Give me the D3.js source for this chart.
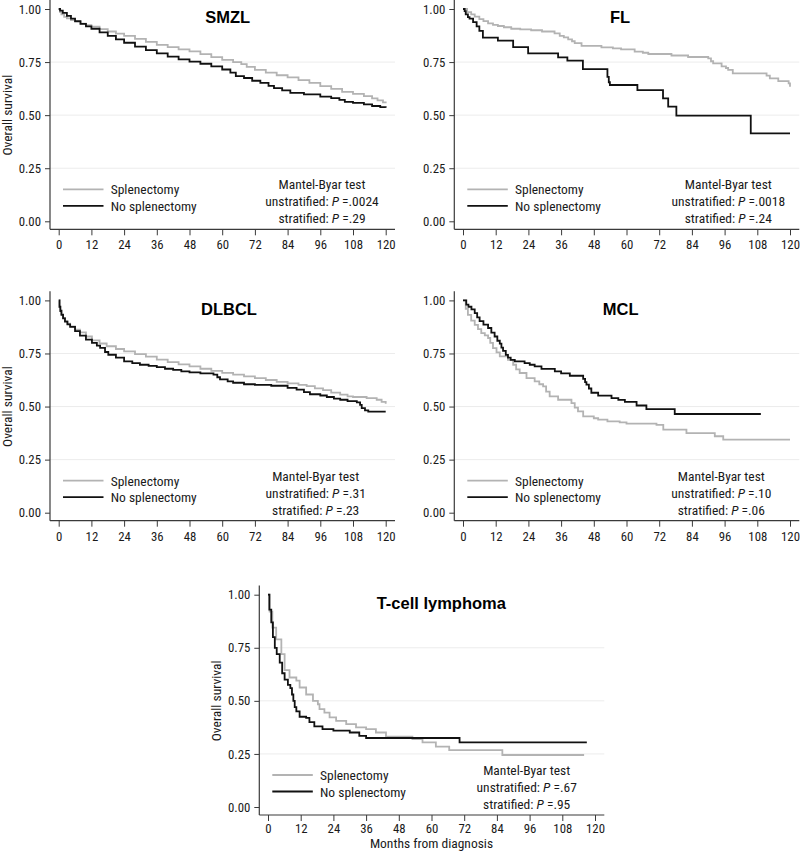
<!DOCTYPE html>
<html>
<head>
<meta charset="utf-8">
<script src="https://cdn.jsdelivr.net/npm/d3@7"></script>
<style>
  html, body { margin: 0; padding: 0; background: #fff; }
  svg { display: block; }
</style>
</head>
<body>
<svg id="chart" width="800" height="851"></svg>
<script>
// ---------------- DATA ----------------
const panelTitles = ["SMZL", "FL", "DLBCL", "MCL", "T-cell lymphoma"];
const seriesNames = ["Splenectomy", "No splenectomy"];
const pUnstratified = [".0024", ".0018", ".31", ".10", ".67"];
const pStratified = [".29", ".24", ".23", ".06", ".95"];
const xTicks = [0, 12, 24, 36, 48, 60, 72, 84, 96, 108, 120];
const yTicks = [0, 0.25, 0.5, 0.75, 1];
const gridValues = [0.25, 0.5, 0.75];

// [month, survival]
const smzlSplen = [[0,1],[0.5,0.985],[1,0.975],[2,0.963],[3,0.956],[4.5,0.948],[6,0.94],[8,0.931],[10,0.924],[12,0.917],[15,0.905],[18,0.894],[21,0.884],[24,0.873],[28,0.859],[32,0.845],[36,0.831],[40,0.82],[44,0.81],[48,0.8],[52,0.787],[56,0.773],[60,0.76],[64,0.75],[67,0.74],[69,0.727],[72,0.713],[76,0.7],[80,0.688],[84,0.678],[88,0.665],[92,0.652],[96,0.637],[100,0.624],[104,0.61],[108,0.6],[112,0.59],[115,0.579],[117,0.57],[119,0.56],[120,0.556]];
const smzlNoSplen = [[0,1],[0.5,0.992],[1.5,0.982],[3,0.968],[4.5,0.955],[6,0.943],[8,0.93],[10,0.918],[12,0.907],[15,0.89],[18,0.873],[21,0.857],[24,0.841],[28,0.823],[32,0.806],[36,0.791],[40,0.776],[44,0.763],[48,0.752],[52,0.742],[56,0.73],[60,0.715],[63,0.7],[65,0.684],[68,0.675],[71,0.662],[74,0.652],[77,0.638],[79,0.627],[82,0.617],[85,0.605],[90,0.598],[96,0.587],[100,0.58],[103,0.572],[105,0.563],[108,0.558],[112,0.551],[115,0.543],[118,0.538],[120,0.535]];

const flSplen = [[0,1],[1.5,0.985],[3,0.975],[4.3,0.964],[6,0.952],[7.5,0.943],[9.2,0.932],[11,0.925],[12.8,0.92],[15,0.914],[17.7,0.907],[21,0.904],[25,0.9],[29,0.894],[33.6,0.885],[35.5,0.873],[37,0.866],[38.6,0.857],[40,0.848],[41,0.839],[43.5,0.826],[50.8,0.819],[55,0.815],[58,0.81],[63,0.799],[66,0.794],[68,0.788],[76.5,0.781],[82.6,0.774],[90,0.767],[91,0.754],[91.8,0.744],[94.9,0.73],[96.5,0.722],[97.3,0.713],[99,0.697],[111.4,0.686],[112.6,0.673],[115.7,0.66],[119.5,0.65],[120,0.634]];
const flNoSplen = [[0,1],[0.6,0.99],[1,0.975],[1.8,0.962],[2.4,0.955],[3.7,0.938],[5,0.918],[6,0.897],[7.3,0.865],[12.8,0.851],[18.4,0.82],[23.9,0.791],[34.9,0.772],[38.3,0.757],[44,0.717],[53,0.68],[53.5,0.655],[53.9,0.642],[64,0.618],[73.4,0.579],[75.3,0.54],[78.3,0.498],[105.6,0.414],[120,0.414]];

const dlbclSplen = [[0,1],[0.3,0.97],[0.6,0.955],[1,0.935],[1.6,0.918],[2.3,0.902],[3.2,0.89],[4.2,0.878],[6,0.862],[7.8,0.849],[10,0.83],[12.2,0.812],[15,0.797],[17.6,0.784],[21,0.771],[24,0.76],[28,0.747],[32,0.735],[36,0.721],[40,0.709],[44,0.699],[48,0.689],[52,0.678],[56,0.668],[60,0.659],[64,0.65],[68,0.642],[72,0.634],[76,0.625],[80,0.616],[84,0.609],[88,0.602],[91,0.596],[94,0.586],[97,0.577],[100,0.566],[103.3,0.556],[106,0.548],[108,0.545],[113,0.54],[116.7,0.532],[118.5,0.522],[120,0.513]];
const dlbclNoSplen = [[0,1],[0.3,0.97],[0.6,0.95],[1,0.932],[1.6,0.915],[2.3,0.9],[3.2,0.887],[4.2,0.875],[6,0.855],[7.8,0.834],[10,0.815],[12.2,0.8],[14,0.787],[15.2,0.776],[17,0.757],[18.2,0.744],[21,0.73],[24,0.713],[27,0.705],[29.8,0.697],[33,0.692],[36,0.686],[39,0.678],[42,0.673],[45,0.666],[48,0.661],[52,0.656],[56.8,0.65],[58.2,0.638],[59.2,0.628],[62,0.619],[64,0.612],[68,0.605],[72,0.602],[78,0.598],[84,0.588],[87.3,0.58],[90,0.568],[92.2,0.558],[96,0.552],[98.4,0.545],[101,0.537],[103.3,0.532],[106,0.526],[109.4,0.52],[110.6,0.508],[111.2,0.493],[112.4,0.482],[113.6,0.476],[120,0.476]];

const mclSplen = [[0,1],[1,0.96],[1.8,0.932],[3,0.905],[4.3,0.885],[5.5,0.865],[6.7,0.846],[8,0.835],[9.2,0.823],[10,0.8],[11,0.775],[12.3,0.755],[13.5,0.736],[16.5,0.72],[18.4,0.697],[19.5,0.675],[20.8,0.658],[23.3,0.634],[26.3,0.619],[28,0.605],[29.4,0.595],[30.5,0.57],[31.8,0.548],[34.9,0.532],[39.8,0.516],[41,0.495],[42.2,0.477],[44.1,0.454],[48,0.445],[49.6,0.438],[53,0.43],[57.5,0.425],[60,0.42],[71,0.414],[73.5,0.391],[82,0.375],[92.4,0.36],[95.5,0.344],[120,0.344]];
const mclNoSplen = [[0,1],[1.2,0.98],[2,0.97],[3.1,0.958],[4.3,0.94],[5.2,0.92],[6.1,0.902],[7.5,0.886],[9.2,0.87],[10.4,0.848],[11.6,0.83],[12.6,0.81],[13.5,0.796],[14.1,0.778],[14.7,0.762],[15.7,0.743],[16.5,0.73],[17.5,0.72],[19,0.713],[22.6,0.705],[24.5,0.697],[26.3,0.689],[28.8,0.677],[33.7,0.666],[36,0.656],[39.2,0.645],[44.1,0.63],[44.8,0.615],[45.3,0.603],[46.2,0.585],[47.1,0.565],[49.6,0.551],[54.5,0.54],[57,0.531],[59.4,0.522],[63.7,0.505],[67.3,0.488],[77.7,0.465],[109.3,0.465]];

const tcellSplen = [[0,1],[0.6,0.92],[1.6,0.845],[3,0.79],[4.9,0.72],[6.1,0.645],[7.9,0.61],[10.4,0.595],[11.6,0.563],[14,0.53],[16.5,0.5],[18.3,0.484],[18.9,0.461],[20.7,0.445],[22.6,0.422],[25,0.406],[28.7,0.39],[32.3,0.375],[36,0.367],[39.6,0.351],[43.3,0.331],[53,0.32],[56.7,0.304],[61.6,0.284],[66.5,0.268],[86,0.245],[116,0.245]];
const tcellNoSplen = [[0,1],[0.5,0.93],[1.2,0.87],[1.8,0.8],[2.5,0.75],[3.2,0.72],[4.3,0.68],[5.2,0.63],[6.1,0.6],[7.3,0.575],[8.2,0.56],[8.8,0.53],[9.3,0.5],[9.8,0.47],[10.4,0.45],[11.6,0.425],[14,0.42],[15.2,0.4],[17,0.38],[20,0.367],[24,0.36],[30,0.351],[33.5,0.335],[36,0.325],[70.3,0.304],[117,0.304]];

const splenSeries = [smzlSplen, flSplen, dlbclSplen, mclSplen, tcellSplen];
const noSplenSeries = [smzlNoSplen, flNoSplen, dlbclNoSplen, mclNoSplen, tcellNoSplen];

// ---------------- LAYOUT (positions only) ----------------
const layout = [
  { ax: 50,    ay: 229.3, titleDx: 177.7, annDx: 272,   yLabel: true,  xLabel: false, tickPad: 5 },
  { ax: 454.3, ay: 229.3, titleDx: 165.7, annDx: 274,   yLabel: false, xLabel: false, tickPad: 5 },
  { ax: 50,    ay: 520.7, titleDx: 179,   annDx: 265.7, yLabel: true,  xLabel: false, tickPad: 5 },
  { ax: 454.3, ay: 520.7, titleDx: 166.4, annDx: 267,   yLabel: false, xLabel: false, tickPad: 5 },
  { ax: 259.3, ay: 815,   titleDx: 182,   annDx: 267.4, yLabel: true,  xLabel: true,  tickPad: 3 }
];

const FONT = '"Roboto Condensed", "Liberation Sans", sans-serif';
const GRAY = "#b3b3b3", BLACK = "#111111", AXIS = "#3a3a3a", TXT = "#1a1a1a";
const svg = d3.select("#chart");
svg.append("rect").attr("width", 800).attr("height", 851).attr("fill", "#fff");

panelTitles.forEach((title, i) => {
  const L = layout[i];
  const g = svg.append("g").attr("transform", `translate(${L.ax},${L.ay})`);
  const x = d3.scaleLinear().domain([0, 120]).range([8.7, 335.7]);
  const y = d3.scaleLinear().domain([0, 1]).range([-8, -220.3]);

  // grid
  g.selectAll("line.grid").data(gridValues).enter().append("line")
    .attr("x1", 0).attr("x2", 345)
    .attr("y1", d => y(d)).attr("y2", d => y(d))
    .attr("stroke", "#ececec").attr("stroke-width", 1);

  // axis lines
  g.append("line").attr("x1", 0).attr("x2", 0).attr("y1", 0).attr("y2", -229.5)
    .attr("stroke", AXIS).attr("stroke-width", 1.2);
  g.append("line").attr("x1", 0).attr("x2", 345).attr("y1", 0).attr("y2", 0)
    .attr("stroke", AXIS).attr("stroke-width", 1.2);

  // y axis
  const yAxis = g.append("g")
    .call(d3.axisLeft(y).tickValues(yTicks).tickFormat(d3.format(".2f")).tickSize(5).tickSizeOuter(0).tickPadding(4));
  yAxis.select(".domain").remove();
  yAxis.selectAll(".tick line").attr("stroke", AXIS);
  yAxis.selectAll(".tick text").attr("font-size", 12.8).attr("fill", TXT).attr("font-family", FONT);

  // x axis
  const xAxis = g.append("g")
    .call(d3.axisBottom(x).tickValues(xTicks).tickSize(6).tickSizeOuter(0).tickPadding(L.tickPad));
  xAxis.select(".domain").remove();
  xAxis.selectAll(".tick line").attr("stroke", AXIS);
  xAxis.selectAll(".tick text").attr("font-size", 12.8).attr("fill", TXT).attr("font-family", FONT);

  // curves
  const line = d3.line().x(d => x(d[0])).y(d => y(d[1])).curve(d3.curveStepAfter);
  g.append("path").datum(splenSeries[i]).attr("d", line)
    .attr("fill", "none").attr("stroke", GRAY).attr("stroke-width", 1.8);
  g.append("path").datum(noSplenSeries[i]).attr("d", line)
    .attr("fill", "none").attr("stroke", BLACK).attr("stroke-width", 1.8);

  // title
  g.append("text").attr("x", L.titleDx).attr("y", -206)
    .attr("text-anchor", "middle")
    .attr("font-family", '"Liberation Sans", Arial, sans-serif')
    .attr("font-weight", "bold").attr("font-size", 16.5).attr("fill", "#000")
    .text(title);

  // axis titles
  if (L.yLabel) {
    g.append("text")
      .attr("transform", `translate(-38.5,${(y(0) + y(1)) / 2}) rotate(-90)`)
      .attr("text-anchor", "middle").attr("font-size", 13.5).attr("fill", TXT)
      .attr("font-family", FONT)
      .text("Overall survival");
  }
  if (L.xLabel) {
    g.append("text")
      .attr("x", (x(0) + x(120)) / 2).attr("y", 33)
      .attr("text-anchor", "middle").attr("font-size", 13.5).attr("fill", TXT)
      .attr("font-family", FONT)
      .text("Months from diagnosis");
  }

  // legend
  const colors = [GRAY, BLACK];
  const legY = [-40, -23.5];
  seriesNames.forEach((name, k) => {
    g.append("line").attr("x1", 13).attr("x2", 53.5).attr("y1", legY[k]).attr("y2", legY[k])
      .attr("stroke", colors[k]).attr("stroke-width", 1.8);
    g.append("text")
      .attr("x", 60.7).attr("y", legY[k] + 5).attr("font-size", 13.5).attr("fill", TXT)
      .attr("font-family", FONT)
      .text(name);
  });

  // annotation
  const ann = g.append("g").attr("font-size", 13.5).attr("fill", TXT).attr("font-family", FONT);
  ann.append("text").attr("x", L.annDx).attr("y", -40).attr("text-anchor", "middle").text("Mantel-Byar test");
  const t2 = ann.append("text").attr("x", L.annDx).attr("y", -23).attr("text-anchor", "middle");
  t2.append("tspan").text("unstratified: ");
  t2.append("tspan").attr("font-style", "italic").text("P");
  t2.append("tspan").text(" =" + pUnstratified[i]);
  const t3 = ann.append("text").attr("x", L.annDx).attr("y", -6).attr("text-anchor", "middle");
  t3.append("tspan").text("stratified: ");
  t3.append("tspan").attr("font-style", "italic").text("P");
  t3.append("tspan").text(" =" + pStratified[i]);
});
</script>
</body>
</html>
